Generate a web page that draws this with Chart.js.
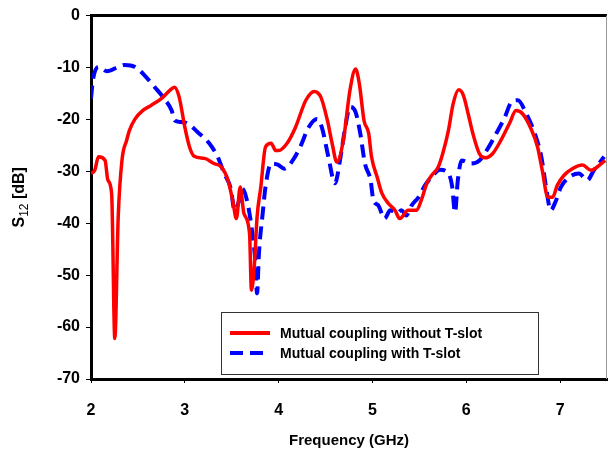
<!DOCTYPE html>
<html>
<head>
<meta charset="utf-8">
<script src="https://cdn.jsdelivr.net/npm/chart.js@4"></script>
<style>
  html, body { margin:0; padding:0; background:#fff; }
  #wrap { width:608px; height:456px; }
</style>
</head>
<body>
<div id="wrap"><canvas id="grafico" width="608" height="456"></canvas></div>
<script>
// Frecuencia (GHz) y S12 (dB)
const freqSin = [2.0,2.04,2.08,2.15,2.18,2.22,2.254,2.29,2.33,2.38,2.41,2.47,2.55,2.64,2.75,2.84,2.89,2.94,3.0,3.05,3.10,3.21,3.31,3.39,3.46,3.51,3.55,3.59,3.63,3.69,3.71,3.74,3.77,3.81,3.86,3.92,3.97,4.0,4.09,4.18,4.29,4.38,4.45,4.52,4.57,4.62,4.69,4.76,4.82,4.86,4.91,4.96,4.99,5.05,5.10,5.17,5.24,5.29,5.38,5.47,5.52,5.58,5.63,5.70,5.75,5.81,5.86,5.92,5.97,6.02,6.07,6.14,6.20,6.28,6.37,6.46,6.53,6.60,6.69,6.76,6.81,6.87,6.92,6.97,7.04,7.13,7.24,7.33,7.42,7.48];
const s12Sin  = [-30.4,-29.8,-27.2,-27.9,-31.7,-34.3,-62.2,-38.8,-27.9,-24,-22.1,-19.9,-18.3,-17.3,-16,-14.4,-13.8,-15.7,-21.5,-25.3,-27.1,-27.5,-28.5,-29.2,-31.7,-35.6,-39.1,-33,-38.1,-42,-52.9,-48.4,-38.8,-33,-25.3,-24.6,-26,-26,-24.6,-21.5,-16.3,-14.6,-15.7,-20.2,-24.6,-28.2,-24,-14.4,-10.3,-13.1,-20.2,-22.7,-27.2,-31.1,-34.2,-36.2,-37.5,-39.1,-37.5,-37.5,-35.6,-32.3,-30.8,-29.2,-26.5,-22.1,-17,-14.3,-15.4,-18.9,-22.7,-26.6,-27.4,-26.6,-24,-20.8,-18.3,-18.9,-21.8,-25.3,-29.8,-35,-35,-32.7,-30.8,-29.5,-28.8,-29.8,-28.8,-27.9];

const freqCon = [2.0,2.02,2.08,2.17,2.29,2.36,2.47,2.57,2.68,2.78,2.86,2.89,2.96,3.03,3.14,3.26,3.35,3.42,3.49,3.53,3.58,3.61,3.67,3.72,3.75,3.77,3.79,3.83,3.86,3.92,3.99,4.06,4.15,4.23,4.32,4.41,4.46,4.53,4.60,4.66,4.71,4.76,4.82,4.87,4.92,4.98,5.01,5.06,5.13,5.19,5.26,5.31,5.36,5.42,5.49,5.56,5.63,5.72,5.81,5.85,5.88,5.91,5.95,6.05,6.14,6.23,6.32,6.41,6.48,6.55,6.64,6.73,6.80,6.85,6.90,6.95,7.01,7.10,7.20,7.29,7.36,7.47];
const s12Con  = [-16,-12.5,-9.9,-10.7,-9.9,-9.5,-9.9,-11.5,-13.8,-16,-18.3,-20.2,-20.5,-20.8,-22.5,-24.6,-27.2,-30.4,-33.3,-37.5,-35.6,-33.3,-36.2,-42,-47.1,-53.5,-45.8,-38.1,-33,-28.5,-28.7,-29.5,-27.9,-25.3,-21.5,-19.9,-21.5,-27.2,-32.3,-27.2,-21.5,-17.6,-18.6,-22.7,-28.5,-31.7,-35.6,-36.5,-39.1,-37.5,-38.1,-37.5,-38.5,-36.5,-35,-32.7,-31.1,-29.7,-30.4,-33,-37.9,-31.7,-27.9,-28.5,-27.9,-25.6,-22.7,-19.6,-16.7,-16.3,-18.9,-22.7,-27.2,-33,-37.5,-35.9,-33,-31.1,-30.4,-31.7,-29.8,-27.2];

const xTicks = [2,3,4,5,6,7];
const yTicks = [0,-10,-20,-30,-40,-50,-60,-70];
const etiquetas = ['Mutual coupling without T-slot','Mutual coupling with T-slot'];

const fuente = 'Arial, "Liberation Sans", sans-serif';

// Marco superior/derecho, título del eje Y con subíndice y leyenda dentro del área
const marco = {
  id:'marco',
  afterDraw(chart){
    const {ctx, chartArea:a} = chart;
    ctx.save();
    ctx.strokeStyle='#000'; ctx.lineWidth=3;
    ctx.beginPath(); ctx.moveTo(a.left, a.top); ctx.lineTo(a.right, a.top); ctx.stroke();
    ctx.strokeStyle='#999'; ctx.lineWidth=1;
    ctx.beginPath(); ctx.moveTo(a.right-0.5, a.top); ctx.lineTo(a.right-0.5, a.bottom); ctx.stroke();

    // título eje Y: S12 [dB]
    ctx.save();
    ctx.translate(24, (a.top+a.bottom)/2);
    ctx.rotate(-Math.PI/2);
    ctx.fillStyle='#000'; ctx.textBaseline='alphabetic';
    const f1='bold 16px '+fuente, f2='12px '+fuente;
    ctx.font=f1; const wS=ctx.measureText('S').width, wR=ctx.measureText(' [dB]').width;
    ctx.font=f2; const wSub=ctx.measureText('12').width;
    let x=-(wS+wSub+wR)/2;
    ctx.font=f1; ctx.fillText('S',x,0); x+=wS;
    ctx.font=f2; ctx.fillText('12',x,4); x+=wSub;
    ctx.font=f1; ctx.fillText(' [dB]',x,0);
    ctx.restore();

    // leyenda
    const bx=221.5, by=312.5, bw=317, bh=62;
    ctx.fillStyle='#fff'; ctx.fillRect(bx,by,bw,bh);
    ctx.strokeStyle='#333'; ctx.lineWidth=1; ctx.strokeRect(bx,by,bw,bh);
    chart.data.datasets.forEach((ds,i)=>{
      const y = 333 + i*20;
      ctx.strokeStyle=ds.borderColor; ctx.lineWidth=4;
      ctx.setLineDash(ds.borderDash || []);
      ctx.beginPath(); ctx.moveTo(230,y); ctx.lineTo(270,y); ctx.stroke();
      ctx.setLineDash([]);
      ctx.fillStyle='#000'; ctx.font='bold 14px '+fuente; ctx.textBaseline='middle';
      ctx.fillText(ds.label, 280, y+1);
    });
    ctx.restore();
  }
};

new Chart(document.getElementById('grafico').getContext('2d'), {
  type:'line',
  data:{ datasets:[
    { label:etiquetas[0], data:freqSin.map((f,i)=>({x:f,y:s12Sin[i]})),
      borderColor:'#ff0000', borderWidth:3.5, pointRadius:0, cubicInterpolationMode:'monotone' },
    { label:etiquetas[1], data:freqCon.map((f,i)=>({x:f,y:s12Con[i]})),
      borderColor:'#0000ff', borderWidth:4, borderDash:[13,7], pointRadius:0, cubicInterpolationMode:'monotone' }
  ]},
  options:{
    responsive:false, animation:false,
    layout:{ padding:{ top:15, right:1 } },
    plugins:{ legend:{ display:false }, tooltip:{ enabled:false } },
    scales:{
      x:{ type:'linear', min:2, max:7.5,
        afterBuildTicks:s=>{ s.ticks = xTicks.map(v=>({value:v})); },
        afterFit:s=>{ s.height = 77; },
        grid:{ drawOnChartArea:false, drawTicks:true, tickLength:4, color:'#000' },
        border:{ color:'#000', width:3 },
        ticks:{ color:'#000', font:{ family:fuente, size:16, weight:'bold' }, padding:18, maxRotation:0 },
        title:{ display:true, text:'Frequency (GHz)', color:'#000', font:{ family:fuente, size:15, weight:'bold' }, padding:{ top:8, bottom:6 } }
      },
      y:{ min:-70, max:0,
        afterBuildTicks:s=>{ s.ticks = yTicks.map(v=>({value:v})); },
        afterFit:s=>{ s.width = 91; },
        grid:{ drawOnChartArea:false, drawTicks:true, tickLength:5, color:'#000' },
        border:{ color:'#000', width:3 },
        ticks:{ color:'#000', font:{ family:fuente, size:16, weight:'bold' }, padding:6 },
        title:{ display:false }
      }
    }
  },
  plugins:[marco]
});
</script>
</body>
</html>
